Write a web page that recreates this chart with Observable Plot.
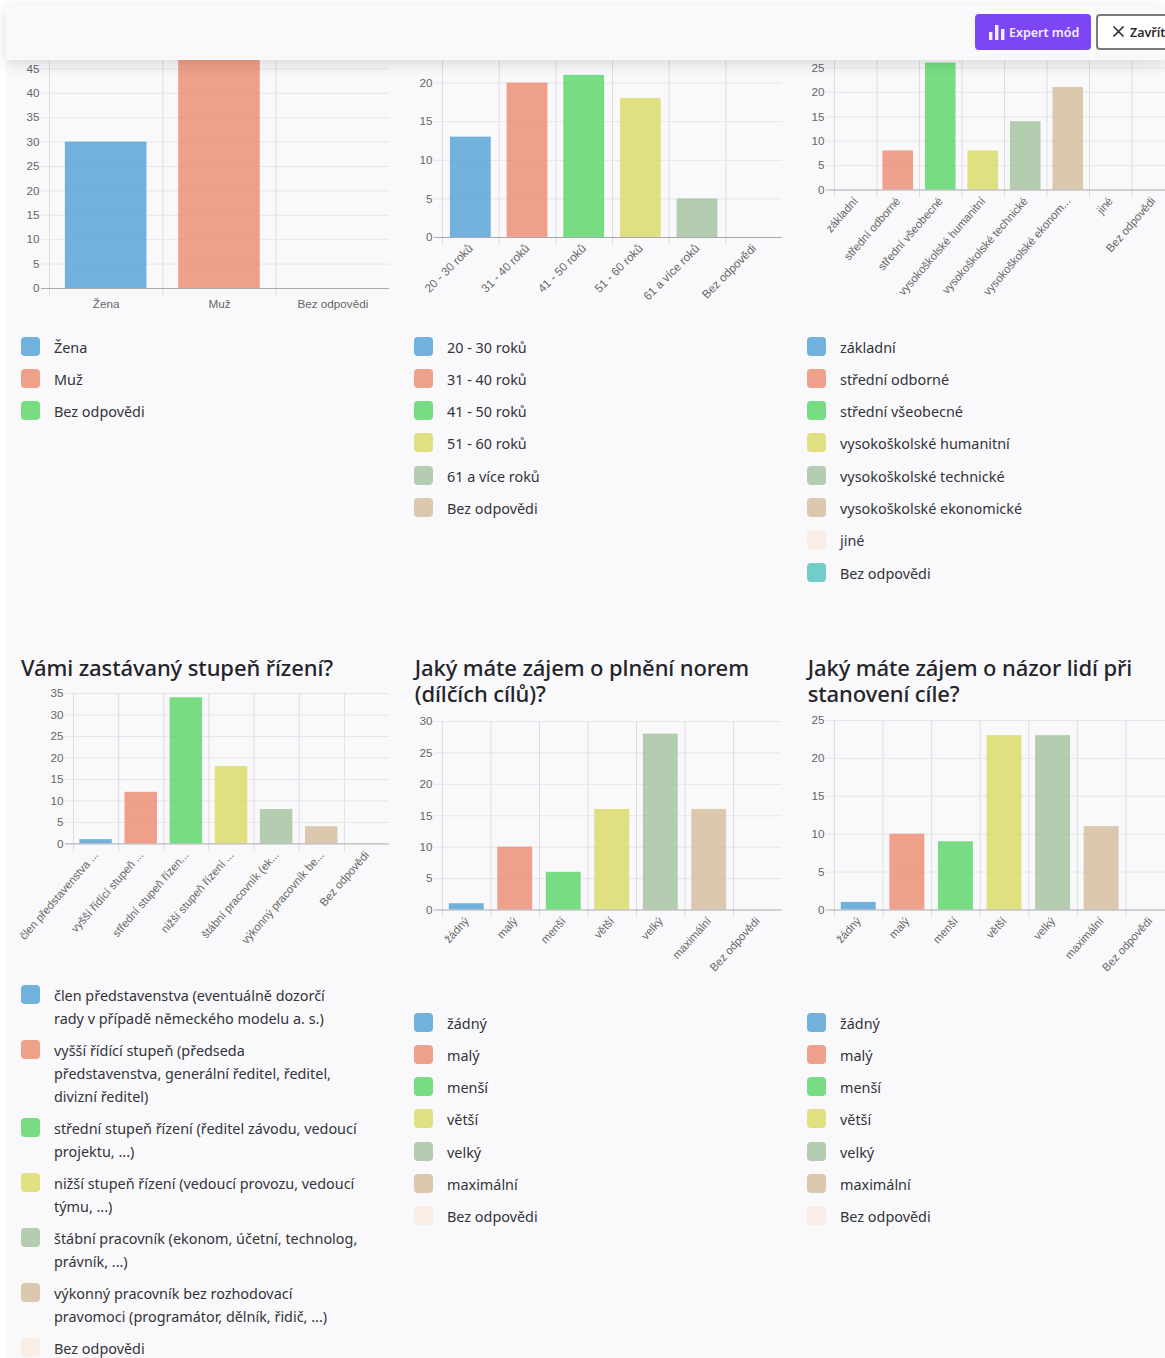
<!DOCTYPE html>
<html lang="cs">
<head>
<meta charset="utf-8">
<script src="https://cdn.jsdelivr.net/npm/d3@7"></script>
<script src="https://cdn.jsdelivr.net/npm/@observablehq/plot@0.6"></script>
<style>
  html, body { margin: 0; padding: 0; background: #fff; }
  body { width: 1165px; height: 1358px; overflow: hidden; position: relative; font-family: "Noto Sans", sans-serif; }
  #panel { position: absolute; left: 6px; top: 5px; right: 0; bottom: 0; background: #f9f9fb; }
  #topbar { position: absolute; left: 6px; top: 5px; right: 0; height: 55px; background: #f9f9fb; box-shadow: 0 4px 14px rgba(0,0,0,.13); z-index: 5; }
  .btn { position: absolute; top: 14px; height: 36px; box-sizing: border-box; border-radius: 4px; font: 600 12.5px/37px "Noto Sans", sans-serif; z-index: 6; white-space: nowrap; }
  #expert { left: 975px; width: 116px; background: #7c46f5; color: #f4f0ff; }
  #expert svg { position: absolute; left: 14px; top: 11px; }
  #expert span { position: absolute; left: 34px; }
  #close { left: 1096px; width: 90px; background: #fff; border: 2px solid #7a7a7a; color: #2b2b2b; line-height: 33px; }
  #close svg { position: absolute; left: 14px; top: 9px; }
  #close span { position: absolute; left: 32px; }
  .chart { position: absolute; }
  .chart svg { display: block; max-width: none; background: transparent; overflow: visible; }
  .title { position: absolute; width: 350px; font: 500 22px/26px "Noto Sans", sans-serif; color: #24242a; letter-spacing: -0.1px; }
  .legend { position: absolute; width: 345px; }
  .item { position: relative; padding-left: 33px; margin-bottom: 9.55px; font-size: 14.4px; line-height: 22.75px; color: #33333a; white-space: pre; }
  .swatch { position: absolute; left: 0; top: 0; width: 19px; height: 19px; border-radius: 4px; }
</style>
</head>
<body>
<div id="panel"></div>
<div id="topbar"></div>
<div class="btn" id="expert">
  <svg width="16" height="15" viewBox="0 0 16 15" fill="#f4f0ff"><rect x="0" y="7" width="3.4" height="8"/><rect x="6" y="0" width="3.4" height="15"/><rect x="12" y="4" width="3.4" height="11"/></svg>
  <span>Expert mód</span>
</div>
<div class="btn" id="close">
  <svg width="13" height="13" viewBox="0 0 13 13" stroke="#2b2b2b" stroke-width="1.6"><path d="M1.5 1.5 L11.5 11.5 M11.5 1.5 L1.5 11.5"/></svg>
  <span>Zavřít</span>
</div>
<script>
// Survey answer categories, tick labels and respondent counts for each question.
const genderCats = ["Žena", "Muž", "Bez odpovědi"];
const genderCounts = [30, 47, 0];

const ageCats = ["20 - 30 roků", "31 - 40 roků", "41 - 50 roků", "51 - 60 roků", "61 a více roků", "Bez odpovědi"];
const ageCounts = [13, 20, 21, 18, 5, 0];

const eduTicks = ["základní", "střední odborné", "střední všeobecné", "vysokoškolské humanitní", "vysokoškolské technické", "vysokoškolské ekonom...", "jiné", "Bez odpovědi"];
const eduLegend = ["základní", "střední odborné", "střední všeobecné", "vysokoškolské humanitní", "vysokoškolské technické", "vysokoškolské ekonomické", "jiné", "Bez odpovědi"];
const eduCounts = [0, 8, 26, 8, 14, 21, 0, 0];

const roleTicks = ["člen představenstva ...", "vyšší řídící stupeň ...", "střední stupeň řízen...", "nižší stupeň řízení ...", "štábní pracovník (ek...", "výkonný pracovník be...", "Bez odpovědi"];
const roleLegend = [
  "člen představenstva (eventuálně dozorčí\nrady v případě německého modelu a. s.)",
  "vyšší řídící stupeň (předseda\npředstavenstva, generální ředitel, ředitel,\ndivizní ředitel)",
  "střední stupeň řízení (ředitel závodu, vedoucí\nprojektu, ...)",
  "nižší stupeň řízení (vedoucí provozu, vedoucí\ntýmu, ...)",
  "štábní pracovník (ekonom, účetní, technolog,\nprávník, ...)",
  "výkonný pracovník bez rozhodovací\npravomoci (programátor, dělník, řidič, ...)",
  "Bez odpovědi"
];
const roleCounts = [1, 12, 34, 18, 8, 4, 0];

const interestCats = ["žádný", "malý", "menší", "větší", "velký", "maximální", "Bez odpovědi"];
const normCounts = [1, 10, 6, 16, 28, 16, 0];
const goalCounts = [1, 10, 9, 23, 23, 11, 0];

// Colours cycle through the answers in order; bars are drawn slightly translucent over the grid.
const paletteAll = ["#4fa0d6", "#eb8a6e", "#58d664", "#d9d962", "#a3c29e", "#d5bc9b", "#f9eae1", "#50c1bc"];

const marginLeft = 60, marginBottom = 120, marginTop = 12;

function drawChart({cats, counts, legend, title, yMax, yStep, left, right, yTop, yBase, rotate, legendX, legendY, titleX, titleY}) {
  const ticks = d3.range(0, yMax + 1, yStep);
  const band = (right - left) / cats.length;
  const rows = cats.map((c, i) => ({cat: c, n: counts[i]}));
  const plot = Plot.plot({
    width: right - left + marginLeft,
    height: yBase - yTop + marginTop + marginBottom,
    marginLeft, marginRight: 0, marginTop, marginBottom,
    style: {background: "transparent", fontFamily: "'Liberation Sans', Arial, sans-serif", fontSize: "11.7px"},
    x: {domain: cats, padding: 0, round: false, label: null},
    y: {domain: [0, yMax], label: null},
    color: {domain: cats, range: paletteAll.slice(0, cats.length)},
    marks: [
      Plot.ruleY(ticks.slice(1), {y: d => d, stroke: "#e6e6ea", strokeWidth: 1, insetLeft: -8}),
      Plot.ruleX(cats, {x: d => d, dx: -band / 2, stroke: "#dedee2", strokeWidth: 1, insetBottom: -8}),
      Plot.barY(rows, {x: "cat", y: "n", fill: "cat", fillOpacity: 0.8, insetLeft: band * 0.14, insetRight: band * 0.14}),
      Plot.ruleY([0], {stroke: "#a9a9ae", strokeWidth: 1, insetLeft: -8}),
      Plot.axisY({ticks, tickSize: 0, tickPadding: 10, fill: "#666", label: null}),
      Plot.axisX({tickSize: 0, tickPadding: rotate ? 9 : 11, tickRotate: rotate, fill: "#666", label: null, lineWidth: 100, fontSize: rotate < -45 ? 11.3 : 11.7})
    ]
  });
  const holder = document.createElement("div");
  holder.className = "chart";
  holder.style.left = (left - marginLeft) + "px";
  holder.style.top = (yTop - marginTop) + "px";
  holder.append(plot);
  document.body.append(holder);

  if (title) {
    const t = document.createElement("div");
    t.className = "title";
    t.style.left = titleX + "px";
    t.style.top = titleY + "px";
    t.textContent = title;
    document.body.append(t);
  }
  const list = document.createElement("div");
  list.className = "legend";
  list.style.left = legendX + "px";
  list.style.top = legendY + "px";
  legend.forEach((text, i) => {
    const item = document.createElement("div");
    item.className = "item";
    const sw = document.createElement("span");
    sw.className = "swatch";
    sw.style.background = paletteAll[i];
    sw.style.opacity = 0.8;
    item.append(sw, document.createTextNode(text));
    list.append(item);
  });
  document.body.append(list);
}

drawChart({cats: genderCats, counts: genderCounts, legend: genderCats, yMax: 50, yStep: 5,
  left: 49, right: 389, yTop: 43.5, yBase: 287.5, rotate: 0, legendX: 21, legendY: 336.5});
drawChart({cats: ageCats, counts: ageCounts, legend: ageCats, yMax: 25, yStep: 5,
  left: 442, right: 782, yTop: 44, yBase: 237, rotate: -45, legendX: 414, legendY: 336.5});
drawChart({cats: eduTicks, counts: eduCounts, legend: eduLegend, yMax: 30, yStep: 5,
  left: 834, right: 1174, yTop: 43, yBase: 189.5, rotate: -49, legendX: 807, legendY: 336.5});
drawChart({cats: roleTicks, counts: roleCounts, legend: roleLegend, title: "Vámi zastávaný stupeň řízení?", yMax: 35, yStep: 5,
  left: 73, right: 389, yTop: 693.3, yBase: 843.7, rotate: -49, legendX: 21, legendY: 985, titleX: 21, titleY: 654});
drawChart({cats: interestCats, counts: normCounts, legend: interestCats, title: "Jaký máte zájem o plnění norem (dílčích cílů)?", yMax: 30, yStep: 5,
  left: 442, right: 781.5, yTop: 721, yBase: 909.5, rotate: -48, legendX: 414, legendY: 1012.5, titleX: 414.7, titleY: 654});
drawChart({cats: interestCats, counts: goalCounts, legend: interestCats, title: "Jaký máte zájem o názor lidí při stanovení cíle?", yMax: 25, yStep: 5,
  left: 834, right: 1174, yTop: 720, yBase: 909.5, rotate: -48, legendX: 807, legendY: 1012.5, titleX: 807.7, titleY: 654});
</script>
</body>
</html>
